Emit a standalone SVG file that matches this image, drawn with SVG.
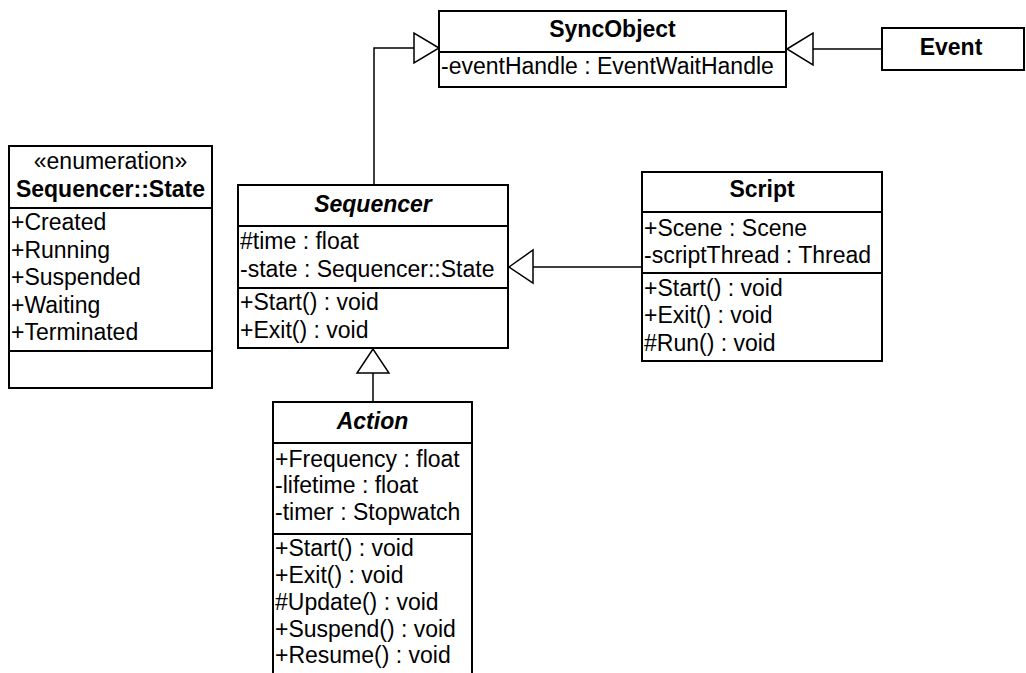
<svg xmlns="http://www.w3.org/2000/svg" width="1026" height="673" viewBox="0 0 1026 673">
  <style>
    text { font-family: "Liberation Sans", Arial, sans-serif; font-size: 23px; fill: #000; }
    .title { font-weight: bold; text-anchor: middle; }
    .abstract { font-weight: bold; font-style: italic; text-anchor: middle; }
    .stereo { text-anchor: middle; }
    .box { fill: #fff; stroke: #000; stroke-width: 2; }
    .sep { stroke: #000; stroke-width: 2; }
    .edge { fill: none; stroke: #000; stroke-width: 1.5; }
    .head { fill: #fff; stroke: #000; stroke-width: 1.5; }
  </style>

  <rect width="1026" height="673" fill="#fff"/>

  <!-- generalization connectors -->
  <g id="connectors">
    <!-- Sequencer -> SyncObject -->
    <polyline class="edge" points="374,185 374,48 414,48"/>
    <polygon class="head" points="439,48 414,33 414,63"/>
    <!-- Event -> SyncObject -->
    <line class="edge" x1="882" y1="49" x2="813" y2="49"/>
    <polygon class="head" points="787,49 813,33 813,65"/>
    <!-- Script -> Sequencer -->
    <line class="edge" x1="642" y1="267" x2="533" y2="267"/>
    <polygon class="head" points="509,267 533,250 533,283"/>
    <!-- Action -> Sequencer -->
    <line class="edge" x1="373" y1="402" x2="373" y2="373"/>
    <polygon class="head" points="373,349 357,373 389,373"/>
  </g>

  <g id="SyncObject">
    <rect class="box" x="439" y="11" width="347" height="76"/>
    <line class="sep" x1="439" y1="52" x2="786" y2="52"/>
    <text class="title" x="612.5" y="37">SyncObject</text>
    <text x="441" y="74">-eventHandle : EventWaitHandle</text>
  </g>

  <g id="Event">
    <rect class="box" x="882" y="28" width="142" height="42"/>
    <text class="title" x="951" y="55">Event</text>
  </g>

  <g id="SequencerState">
    <rect class="box" x="9" y="146" width="203" height="242"/>
    <line class="sep" x1="9" y1="208" x2="212" y2="208"/>
    <line class="sep" x1="9" y1="351" x2="212" y2="351"/>
    <text class="stereo" x="110.5" y="169">«enumeration»</text>
    <text class="title" x="110.5" y="197">Sequencer::State</text>
    <text x="11" y="230">+Created</text>
    <text x="11" y="257.5">+Running</text>
    <text x="11" y="285">+Suspended</text>
    <text x="11" y="312.5">+Waiting</text>
    <text x="11" y="340">+Terminated</text>
  </g>

  <g id="Sequencer">
    <rect class="box" x="238" y="185" width="270" height="163"/>
    <line class="sep" x1="238" y1="226" x2="508" y2="226"/>
    <line class="sep" x1="238" y1="288" x2="508" y2="288"/>
    <text class="abstract" x="373" y="212">Sequencer</text>
    <text x="240" y="249">#time : float</text>
    <text x="240" y="277">-state : Sequencer::State</text>
    <text x="240" y="310">+Start() : void</text>
    <text x="240" y="338">+Exit() : void</text>
  </g>

  <g id="Script">
    <rect class="box" x="642" y="172" width="240" height="189"/>
    <line class="sep" x1="642" y1="212" x2="882" y2="212"/>
    <line class="sep" x1="642" y1="273" x2="882" y2="273"/>
    <text class="title" x="762" y="197">Script</text>
    <text x="644" y="236">+Scene : Scene</text>
    <text x="644" y="263">-scriptThread : Thread</text>
    <text x="644" y="296">+Start() : void</text>
    <text x="644" y="323">+Exit() : void</text>
    <text x="644" y="351">#Run() : void</text>
  </g>

  <g id="Action">
    <rect class="box" x="273" y="402" width="199" height="290"/>
    <line class="sep" x1="273" y1="443" x2="472" y2="443"/>
    <line class="sep" x1="273" y1="534" x2="472" y2="534"/>
    <text class="abstract" x="372.5" y="429">Action</text>
    <text x="275" y="467">+Frequency : float</text>
    <text x="275" y="493">-lifetime : float</text>
    <text x="275" y="520">-timer : Stopwatch</text>
    <text x="275" y="556">+Start() : void</text>
    <text x="275" y="583">+Exit() : void</text>
    <text x="275" y="610">#Update() : void</text>
    <text x="275" y="637">+Suspend() : void</text>
    <text x="275" y="663">+Resume() : void</text>
  </g>
</svg>
